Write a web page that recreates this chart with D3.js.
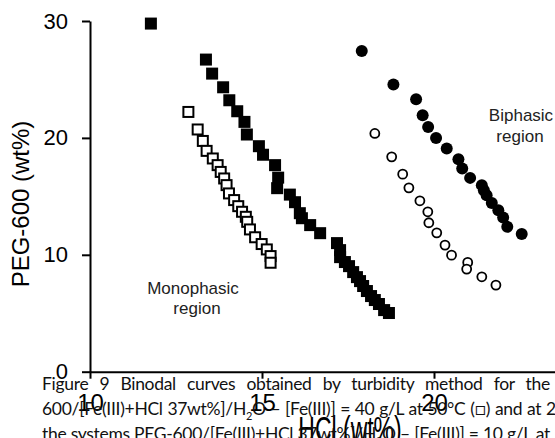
<!DOCTYPE html>
<html>
  <head>
    <meta charset="utf-8">
    <script src="https://cdn.jsdelivr.net/npm/d3@7" type="text/javascript"></script>
    <style>
      body {
        margin: 0;
        width: 555px;
        height: 438px;
        overflow: hidden;
        position: relative;
        background: white;
      }

      svg {
        position: absolute;
        left: 0;
        top: 0;
        font-family: "Liberation Sans", Arial, sans-serif;
      }

      .axis path, .axis line {
        stroke: black;
        stroke-width: 2px;
      }

      .caption {
        position: absolute;
        left: 42px;
        font-family: Lato, "Open Sans", sans-serif;
        font-size: 17.5px;
        letter-spacing: -0.3px;
        line-height: 25px;
        text-align: justify;
        text-align-last: justify;
        color: #111;
      }

      .caption sub {
        font-size: 11px;
        line-height: 0;
      }
    </style>
  </head>
  <body>
    <svg width="555" height="438"></svg>
    <div class="caption" style="top:371px;width:508px;">Figure 9 Binodal curves obtained by turbidity method for the</div>
    <div class="caption" style="top:396px;width:542px;">600/[Fe(III)+HCl 37wt%]/H<sub>2</sub>O – [Fe(III)] = 40 g/L at 50°C (□) and at 25°C</div>
    <div class="caption" style="top:421px;width:508px;">the systems PEG-600/[Fe(III)+HCl 37wt%]/H<sub>2</sub>O – [Fe(III)] = 10 g/L at</div>
    <script>
      // filled squares
      var fsqHCl = [11.77, 13.37, 13.55, 13.87, 14.05, 14.28, 14.49, 14.56, 14.91, 15.03, 15.38, 15.47, 15.44, 15.81, 15.96, 16.10, 16.16, 16.40, 16.69, 17.18, 17.27, 17.27, 17.41, 17.53, 17.65, 17.76, 17.85, 17.94, 18.05, 18.17, 18.28, 18.40, 18.55, 18.69];
      var fsqPEG = [29.78, 26.70, 25.50, 24.33, 23.22, 22.28, 21.37, 20.29, 19.29, 18.56, 17.67, 16.60, 15.70, 15.15, 14.50, 13.56, 13.13, 12.54, 11.85, 11.00, 10.40, 9.80, 9.38, 9.03, 8.52, 8.09, 7.75, 7.33, 6.90, 6.47, 6.13, 5.79, 5.27, 5.02];

      // open squares
      var osqHCl = [12.86, 13.13, 13.28, 13.39, 13.57, 13.71, 13.80, 13.90, 13.97, 14.04, 14.19, 14.31, 14.42, 14.53, 14.57, 14.65, 14.80, 14.99, 15.14, 15.25, 15.25];
      var osqPEG = [22.22, 20.72, 19.74, 18.89, 18.24, 17.67, 17.09, 16.53, 15.96, 15.25, 14.68, 14.16, 13.68, 13.25, 12.82, 12.17, 11.50, 10.92, 10.46, 9.89, 9.32];

      // filled circles
      var fciHCl = [17.90, 18.82, 19.48, 19.67, 19.83, 20.06, 20.37, 20.71, 20.82, 21.05, 21.39, 21.45, 21.53, 21.68, 21.87, 22.01, 22.13, 22.55];
      var fciPEG = [27.44, 24.56, 23.31, 21.94, 20.94, 20.00, 19.09, 18.18, 17.38, 16.58, 15.96, 15.53, 15.10, 14.44, 13.82, 13.20, 12.39, 11.77];

      // open circles
      var ociHCl = [18.28, 18.77, 19.09, 19.27, 19.59, 19.82, 19.85, 20.08, 20.32, 20.51, 20.98, 20.95, 21.39, 21.80];
      var ociPEG = [20.38, 18.38, 16.90, 15.73, 14.62, 13.68, 12.74, 11.88, 10.83, 9.97, 9.35, 8.78, 8.12, 7.41];

      var xTicks = [10, 15, 20, 25];
      var yTicks = [0, 10, 20, 30];

      var svg = d3.select("svg");

      var x = d3.scaleLinear().domain([10, 25]).range([90, 606]);
      var y = d3.scaleLinear().domain([0, 30]).range([371.7, 21]);

      var yAxis = svg.append("g")
        .attr("class", "axis")
        .attr("transform", "translate(90,0)")
        .call(d3.axisLeft(y).tickValues(yTicks).tickSize(8).tickSizeOuter(0).tickPadding(14).tickFormat(d3.format("d")));
      yAxis.selectAll("text")
        .style("font-size", "22px")
        .style("fill", "black");

      var xAxis = svg.append("g")
        .attr("class", "axis")
        .attr("transform", "translate(0,371.7)")
        .call(d3.axisBottom(x).tickValues(xTicks).tickSize(7).tickSizeOuter(0).tickPadding(15).tickFormat(d3.format("d")));
      xAxis.selectAll("text")
        .style("font-size", "24px")
        .style("fill", "black");

      svg.append("text")
        .attr("transform", "translate(29,204) rotate(-90)")
        .attr("text-anchor", "middle")
        .style("font-size", "24px")
        .text("PEG-600 (wt%)");

      svg.append("text")
        .attr("transform", "translate(350,441) scale(1,1.5)")
        .attr("text-anchor", "middle")
        .style("font-size", "23px")
        .text("HCl (wt%)");

      // region labels
      var mono = svg.append("text")
        .attr("text-anchor", "middle")
        .style("font-size", "17px")
        .attr("fill", "#222");
      mono.append("tspan").attr("x", 193).attr("y", 294).text("Monophasic");
      mono.append("tspan").attr("x", 197).attr("y", 314).text("region");

      var bi = svg.append("text")
        .attr("text-anchor", "middle")
        .style("font-size", "17px")
        .attr("fill", "#222");
      bi.append("tspan").attr("x", 521).attr("y", 121).text("Biphasic");
      bi.append("tspan").attr("x", 520).attr("y", 142).text("region");

      svg.append("g").selectAll("rect")
        .data(d3.zip(osqHCl, osqPEG))
        .enter()
        .append("rect")
        .attr("x", d => x(d[0]) - 5)
        .attr("y", d => y(d[1]) - 5)
        .attr("width", 10)
        .attr("height", 10)
        .style("fill", "white")
        .style("stroke", "black")
        .style("stroke-width", "2px");

      svg.append("g").selectAll("rect")
        .data(d3.zip(fsqHCl, fsqPEG))
        .enter()
        .append("rect")
        .attr("x", d => x(d[0]) - 6)
        .attr("y", d => y(d[1]) - 6)
        .attr("width", 12)
        .attr("height", 12)
        .style("fill", "black");

      svg.append("g").selectAll("circle")
        .data(d3.zip(ociHCl, ociPEG))
        .enter()
        .append("circle")
        .attr("cx", d => x(d[0]))
        .attr("cy", d => y(d[1]))
        .attr("r", 4.5)
        .style("fill", "white")
        .style("stroke", "black")
        .style("stroke-width", "1.8px");

      svg.append("g").selectAll("circle")
        .data(d3.zip(fciHCl, fciPEG))
        .enter()
        .append("circle")
        .attr("cx", d => x(d[0]))
        .attr("cy", d => y(d[1]))
        .attr("r", 6)
        .style("fill", "black");
    </script>
  </body>
</html>
